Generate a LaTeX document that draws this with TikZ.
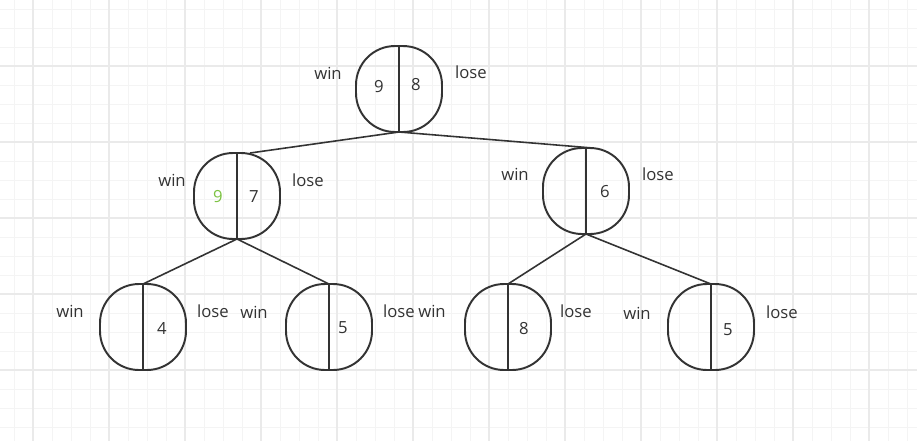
\documentclass[tikz,border=0pt]{standalone}
\usepackage{fontspec}
\setmainfont{Open Sans}
\usetikzlibrary{positioning}
\definecolor{treeink}{HTML}{333333}
\definecolor{treegreen}{HTML}{7CC242}
\definecolor{gridminor}{HTML}{F4F4F4}
\definecolor{gridmajor}{HTML}{EAEAEA}

\tikzset{
  pod/.style={draw=treeink, line width=1.1pt, rounded corners=0.78cm,
              minimum width=1.72cm, minimum height=1.72cm, inner sep=0pt,
              outer sep=0pt},
  score/.style={text=treeink, font=\fontsize{9.5}{11}\selectfont, inner sep=0pt},
  side/.style={text=treeink, font=\fontsize{9.5}{11}\selectfont, inner sep=0pt},
  branch/.style={draw=treeink, line width=0.9pt},
}

\begin{document}
\begin{tikzpicture}[x=0.02cm, y=-0.02cm]
\fill[white] (0,0) rectangle (917,441);
\useasboundingbox (0,0) rectangle (917,441);
% grid paper
\foreach \gx in {14,33,...,917} \draw[gridminor, line width=0.55pt] (\gx,0) -- (\gx,441);
\foreach \gy in {9,28,...,441} \draw[gridminor, line width=0.55pt] (0,\gy) -- (917,\gy);
\foreach \gx in {33,109,...,917} \draw[gridmajor, line width=0.65pt] (\gx,0) -- (\gx,441);
\foreach \gy in {66,142,...,441} \draw[gridmajor, line width=0.65pt] (0,\gy) -- (917,\gy);

% tree nodes
\node[pod] (root) at (399,89) {};
\node[pod] (left) at (237,196) {};
\node[pod] (right) at (586,191) {};
\node[pod] (ll) at (143,327) {};
\node[pod] (lr) at (329,327) {};
\node[pod] (rl) at (508,327) {};
\node[pod] (rr) at (711,327) {};

\foreach \n in {root,left,right,ll,lr,rl,rr}
  \draw[treeink, line width=1.1pt] (\n.north) -- (\n.south);

% branches
\draw[branch] (root.south) -- ([xshift=0.26cm]left.north);
\draw[branch] (root.south) -- ([xshift=0.14cm]right.north);
\draw[branch] (left.south) -- (ll.north);
\draw[branch] (left.south) -- (lr.north);
\draw[branch] (right.south) -- (rl.north);
\draw[branch] (right.south) -- (rr.north);

% scores
\node[score] (rootw) at (379,87) {9};
\node[score] (rootl) at (416,85) {8};
\node[score, text=treegreen] (leftw) at (218,197) {9};
\node[score] (leftl) at (254,197) {7};
\node[score] (rightl) at (605,192) {6};
\node[score] (lll) at (162,328) {4};
\node[score] (lrl) at (343,328) {5};
\node[score] (rll) at (524,329) {8};
\node[score] (rrl) at (728,330) {5};

% win / lose tags
\node[side] (rootwin) at (328,73) {win};
\node[side] (rootlose) at (471,72) {lose};
\node[side] (leftwin) at (172,180) {win};
\node[side] (leftlose) at (308,180) {lose};
\node[side] (rightwin) at (515,174) {win};
\node[side] (rightlose) at (658,174) {lose};
\node[side] (llwin) at (70,311) {win};
\node[side] (lllose) at (213,311) {lose};
\node[side] (lrwin) at (254,312) {win};
\node[side] (lrlose) at (399,311) {lose};
\node[side] (rlwin) at (432,311) {win};
\node[side] (rllose) at (576,311) {lose};
\node[side] (rrwin) at (637,313) {win};
\node[side] (rrlose) at (782,312) {lose};
\end{tikzpicture}
\end{document}
